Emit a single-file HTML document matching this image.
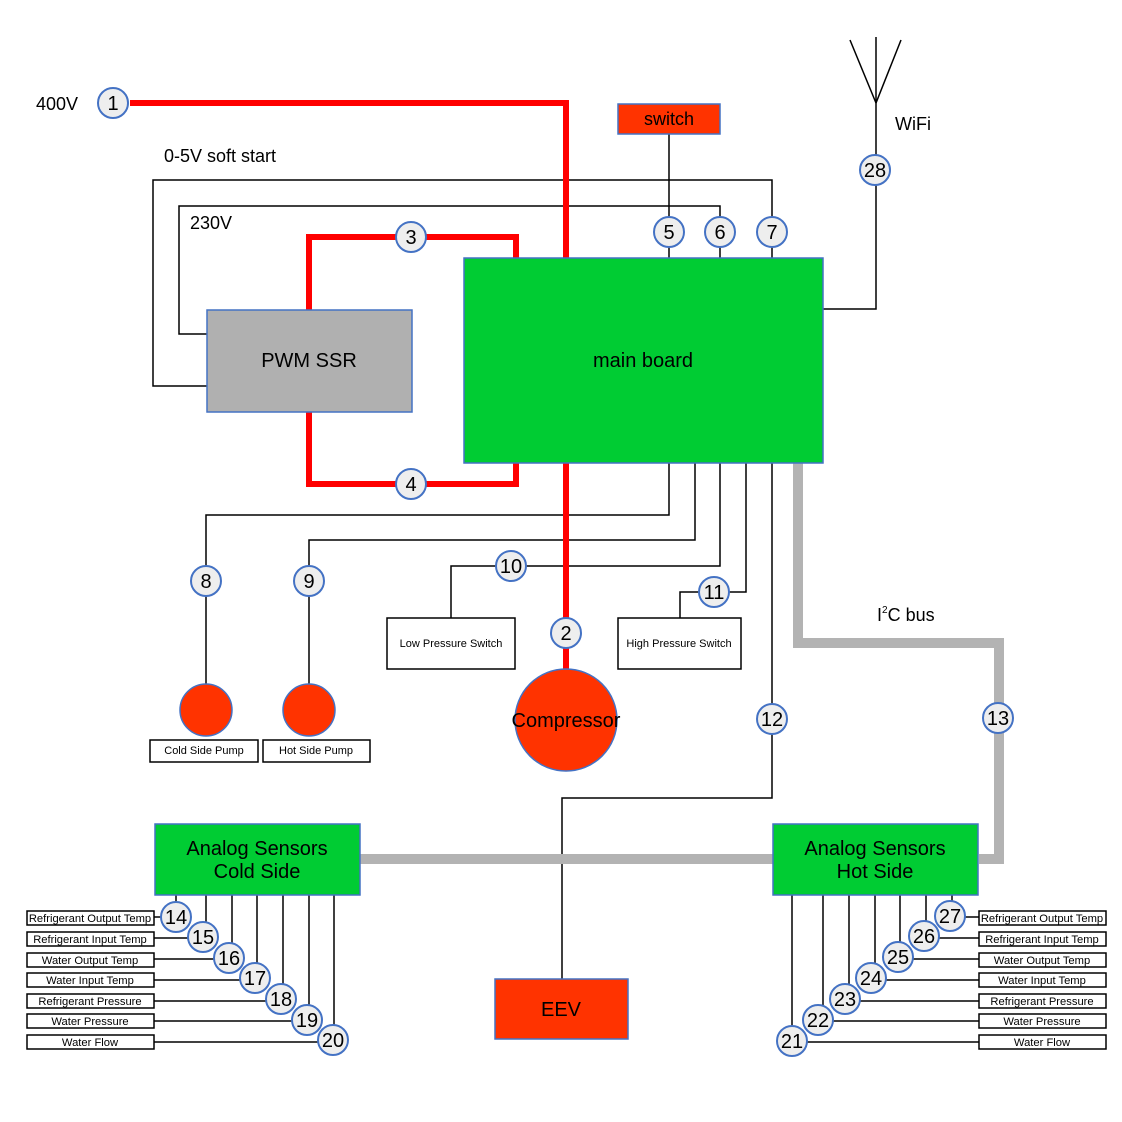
<!DOCTYPE html>
<html><head><style>html,body{margin:0;padding:0;background:#fff}svg{display:block}text{font-family:"Liberation Sans",sans-serif}</style></head><body>
<svg width="1122" height="1122" viewBox="0 0 1122 1122" xmlns="http://www.w3.org/2000/svg">
<g fill="none" stroke="#000" stroke-width="1.5">
<polyline points="207,386 153,386 153,180 772,180 772,258"/>
<polyline points="207,334 179,334 179,206 720,206 720,258"/>
<polyline points="669,134 669,258"/>
<polyline points="823,309 876,309 876,103"/>
<line x1="876" y1="103" x2="850" y2="40"/><line x1="876" y1="103" x2="901" y2="40"/><line x1="876" y1="103" x2="876" y2="37"/>
<polyline points="669,463 669,515 206,515 206,685"/>
<polyline points="695,463 695,540 309,540 309,685"/>
<polyline points="720,463 720,566 451,566 451,618"/>
<polyline points="746,463 746,592 680,592 680,618"/>
<polyline points="772,463 772,798 562,798 562,979"/>
<polyline points="176,895 176,917 154,917"/>
<polyline points="206,895 206,938 154,938"/>
<polyline points="232,895 232,959 154,959"/>
<polyline points="257,895 257,980 154,980"/>
<polyline points="283,895 283,1001 154,1001"/>
<polyline points="309,895 309,1021 154,1021"/>
<polyline points="334,895 334,1042 154,1042"/>
<polyline points="792,895 792,1042 979,1042"/>
<polyline points="823,895 823,1021 979,1021"/>
<polyline points="849,895 849,1001 979,1001"/>
<polyline points="875,895 875,980 979,980"/>
<polyline points="900,895 900,959 979,959"/>
<polyline points="926,895 926,938 979,938"/>
<polyline points="952,895 952,917 979,917"/>
</g>
<g fill="none" stroke="#ff0000" stroke-width="6">
<polyline points="130,103 566,103 566,258"/>
<polyline points="566,463 566,670"/>
<polyline points="309,310 309,237 516,237 516,258"/>
<polyline points="309,412 309,484 516,484 516,463"/>
</g>
<g fill="none" stroke="#b3b3b3" stroke-width="10">
<polyline points="798,463 798,643 999,643 999,859 979,859"/>
<line x1="360" y1="859" x2="773" y2="859"/>
</g>
<g stroke="#4472c4" stroke-width="1.5">
<rect x="464" y="258" width="359" height="205" fill="#00cc33"/>
<rect x="207" y="310" width="205" height="102" fill="#b0b0b0"/>
<rect x="618" y="104" width="102" height="30" fill="#ff3300"/>
<rect x="495" y="979" width="133" height="60" fill="#ff3300"/>
<rect x="155" y="824" width="205" height="71" fill="#00cc33"/>
<rect x="773" y="824" width="205" height="71" fill="#00cc33"/>
<circle cx="566" cy="720" r="51" fill="#ff3300"/>
<circle cx="206" cy="710" r="26" fill="#ff3300"/>
<circle cx="309" cy="710" r="26" fill="#ff3300"/>
</g>
<g fill="#fff" stroke="#000" stroke-width="1.5">
<rect x="387" y="618" width="128" height="51"/>
<rect x="618" y="618" width="123" height="51"/>
<rect x="150" y="740" width="108" height="22"/>
<rect x="263" y="740" width="107" height="22"/>
<rect x="27" y="911" width="127" height="14"/><rect x="27" y="932" width="127" height="14"/><rect x="27" y="953" width="127" height="14"/><rect x="27" y="973" width="127" height="14"/><rect x="27" y="994" width="127" height="14"/><rect x="27" y="1014" width="127" height="14"/><rect x="27" y="1035" width="127" height="14"/>
<rect x="979" y="911" width="127" height="14"/><rect x="979" y="932" width="127" height="14"/><rect x="979" y="953" width="127" height="14"/><rect x="979" y="973" width="127" height="14"/><rect x="979" y="994" width="127" height="14"/><rect x="979" y="1014" width="127" height="14"/><rect x="979" y="1035" width="127" height="14"/>
</g>
<g fill="#eeeeee" stroke="#4472c4" stroke-width="2">
<circle cx="113" cy="103" r="15"/><circle cx="566" cy="633" r="15"/><circle cx="411" cy="237" r="15"/><circle cx="411" cy="484" r="15"/>
<circle cx="669" cy="232" r="15"/><circle cx="720" cy="232" r="15"/><circle cx="772" cy="232" r="15"/>
<circle cx="206" cy="581" r="15"/><circle cx="309" cy="581" r="15"/><circle cx="511" cy="566" r="15"/><circle cx="714" cy="592" r="15"/>
<circle cx="772" cy="719" r="15"/><circle cx="998" cy="718" r="15"/><circle cx="875" cy="170" r="15"/>
<circle cx="176" cy="917" r="15"/><circle cx="203" cy="937" r="15"/><circle cx="229" cy="958" r="15"/><circle cx="255" cy="978" r="15"/><circle cx="281" cy="999" r="15"/><circle cx="307" cy="1020" r="15"/><circle cx="333" cy="1040" r="15"/>
<circle cx="792" cy="1041" r="15"/><circle cx="818" cy="1020" r="15"/><circle cx="845" cy="999" r="15"/><circle cx="871" cy="978" r="15"/><circle cx="898" cy="957" r="15"/><circle cx="924" cy="936" r="15"/><circle cx="950" cy="916" r="15"/>
</g>
<g font-size="20" text-anchor="middle" fill="#000">
<text x="113" y="110">1</text><text x="566" y="640">2</text><text x="411" y="244">3</text><text x="411" y="491">4</text>
<text x="669" y="239">5</text><text x="720" y="239">6</text><text x="772" y="239">7</text>
<text x="206" y="588">8</text><text x="309" y="588">9</text><text x="511" y="573">10</text><text x="714" y="599">11</text>
<text x="772" y="726">12</text><text x="998" y="725">13</text><text x="875" y="177">28</text>
<text x="176" y="924">14</text><text x="203" y="944">15</text><text x="229" y="965">16</text><text x="255" y="985">17</text><text x="281" y="1006">18</text><text x="307" y="1027">19</text><text x="333" y="1047">20</text>
<text x="792" y="1048">21</text><text x="818" y="1027">22</text><text x="845" y="1006">23</text><text x="871" y="985">24</text><text x="898" y="964">25</text><text x="924" y="943">26</text><text x="950" y="923">27</text>
<text x="643" y="367">main board</text>
<text x="309" y="367">PWM SSR</text>
<text x="669" y="125" font-size="18">switch</text>
<text x="561" y="1016">EEV</text>
<text x="566" y="727">Compressor</text>
<text x="257" y="855">Analog Sensors</text><text x="257" y="878">Cold Side</text>
<text x="875" y="855">Analog Sensors</text><text x="875" y="878">Hot Side</text>
</g>
<g font-size="18" fill="#000">
<text x="36" y="110">400V</text>
<text x="164" y="162">0-5V soft start</text>
<text x="190" y="229">230V</text>
<text x="895" y="130">WiFi</text>
<text x="877" y="621">I<tspan font-size="10" dy="-8">2</tspan><tspan dy="8">C bus</tspan></text>
</g>
<g font-size="11" text-anchor="middle" fill="#000">
<text x="451" y="647">Low Pressure Switch</text>
<text x="679" y="647">High Pressure Switch</text>
<text x="204" y="754">Cold Side Pump</text>
<text x="316" y="754">Hot Side Pump</text>
</g>
<g font-size="11.2" text-anchor="middle" fill="#000">
<text x="90" y="922">Refrigerant Output Temp</text><text x="90" y="943">Refrigerant Input Temp</text><text x="90" y="964">Water Output Temp</text><text x="90" y="984">Water Input Temp</text><text x="90" y="1005">Refrigerant Pressure</text><text x="90" y="1025">Water Pressure</text><text x="90" y="1046">Water Flow</text>
<text x="1042" y="922">Refrigerant Output Temp</text><text x="1042" y="943">Refrigerant Input Temp</text><text x="1042" y="964">Water Output Temp</text><text x="1042" y="984">Water Input Temp</text><text x="1042" y="1005">Refrigerant Pressure</text><text x="1042" y="1025">Water Pressure</text><text x="1042" y="1046">Water Flow</text>
</g>
</svg>
</body></html>
